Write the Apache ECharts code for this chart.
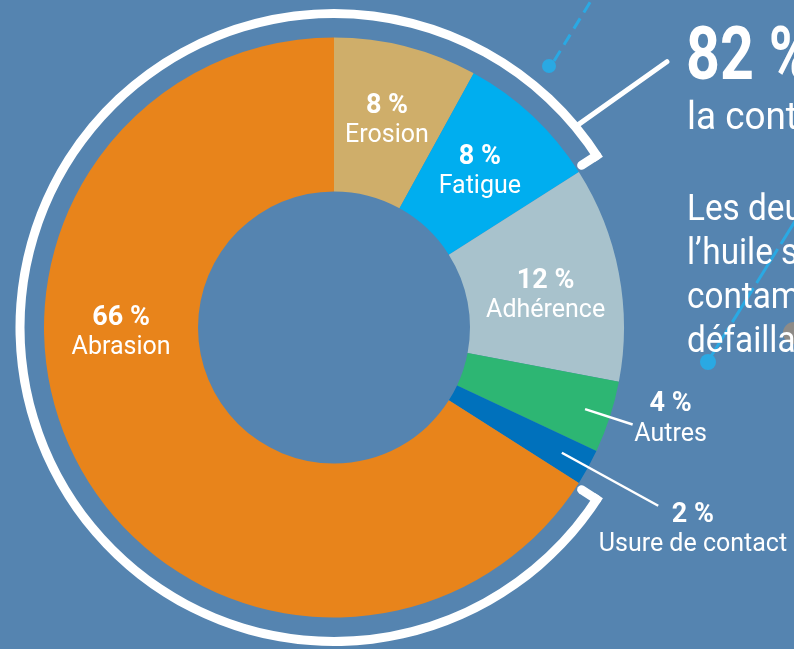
<!DOCTYPE html>
<html>
<head>
<meta charset="utf-8">
<script src="https://cdn.jsdelivr.net/npm/echarts@6/dist/echarts.min.js"></script>
<style>
  html, body { margin: 0; padding: 0; background: #5584b0; }
  #chart { width: 794px; height: 649px; }
</style>
</head>
<body>
<div id="chart"></div>
<script>
// slices, clockwise from 12 o'clock
const categories = ["Erosion", "Fatigue", "Adhérence", "Autres", "Usure de contact", "Abrasion"];
const shares = [8, 8, 12, 4, 2, 66];
// causes grouped under the white "82 %" arc
const contamination = ["Erosion", "Fatigue", "Abrasion"];
const headline = "82 %";
const headlineSub = "la contamination";
const bodyLines = ["Les deux tiers de", "l’huile sont", "contaminées", "défaillances"];

const palette = ["#cfae6a", "#00aeef", "#a8c2cc", "#2db673", "#0071bc", "#e8841b"];
const bg = "#5584b0";
const cx = 334, cy = 327.5;
const rIn = 136, rOut = 290;

const chart = echarts.init(document.getElementById("chart"));

// angles (deg, clockwise from top)
const total = shares.reduce((a, b) => a + b, 0);
let acc = 0;
const midAng = [];
shares.forEach((v) => {
  midAng.push((acc + v / 2) / total * 360);
  acc += v;
});
function polar(deg, r) {
  const a = deg * Math.PI / 180;
  return [cx + r * Math.sin(a), cy - r * Math.cos(a)];
}

// label spots that differ from the slice middle
const labelSpot = {
  "Adhérence": [81.5, 214],
  "Abrasion": [268.5, 213],
  "Autres": [105.3, 349],
  "Usure de contact": [119.4, 412],
};

// white arc: runs of slices in / out of the contamination group
const ringData = [];
categories.forEach((c, i) => {
  const inside = contamination.includes(c);
  const last = ringData[ringData.length - 1];
  if (last && last.inside === inside) last.value += shares[i];
  else ringData.push({ value: shares[i], inside: inside });
});
let arcStart = null, arcEnd = null, run = 0;
ringData.forEach((d) => {
  const a0 = run / total * 360;
  run += d.value;
  const a1 = run / total * 360;
  if (!d.inside) { arcEnd = a0; arcStart = a1; }
});

const hookD = 4.5 / 314 * 180 / Math.PI;
const white = "#ffffff";
const graphics = [];
function line(p1, p2, w, cap) {
  graphics.push({
    type: "line", z: 20, silent: true,
    shape: { x1: p1[0], y1: p1[1], x2: p2[0], y2: p2[1] },
    style: { stroke: white, lineWidth: w, lineCap: cap || "round" },
  });
}
// hooks at the ends of the white arc
line(polar(arcEnd - hookD, 314), polar(arcEnd - hookD, 296), 9);
line(polar(arcStart + hookD, 314), polar(arcStart + hookD, 296), 9);
// pointer to the headline
line(polar(50.3, 318), polar(51.4, 426), 5);
// label lines for the small slices
const iAut = categories.indexOf("Autres");
const iUs = categories.indexOf("Usure de contact");
line(polar(midAng[iAut], 264), polar(midAng[iAut], 314), 2.5, "butt");
line(polar(midAng[iUs], 260), polar(midAng[iUs], 370), 2.5, "butt");

// decorative droplets
const drop = "#2aa9e3";
graphics.push({
  type: "line", z: 5, silent: true,
  shape: { x1: 600, y1: -14, x2: 551, y2: 66 },
  style: { stroke: drop, lineWidth: 3, lineDash: [12, 7] },
});
graphics.push({ type: "circle", z: 5, silent: true, shape: { cx: 549, cy: 66, r: 7 }, style: { fill: drop } });
graphics.push({
  type: "line", z: 5, silent: true,
  shape: { x1: 802, y1: 210, x2: 710, y2: 358 },
  style: { stroke: drop, lineWidth: 3, lineDash: [40, 6] },
});
graphics.push({ type: "circle", z: 5, silent: true, shape: { cx: 708, cy: 362, r: 8 }, style: { fill: drop } });
graphics.push({ type: "circle", z: 5, silent: true, shape: { cx: 794, cy: 333, r: 11 }, style: { fill: "#8e8b87" } });

// right-hand text
graphics.push({
  type: "text", z: 20, x: 686, y: 60, scaleX: 0.8, silent: true,
  style: { text: headline, fill: white, font: "bold 74px Roboto", verticalAlign: "middle" },
});
graphics.push({
  type: "text", z: 20, x: 687, y: 119, scaleX: 0.97, silent: true,
  style: { text: headlineSub, fill: white, font: "38px Roboto", verticalAlign: "middle" },
});
graphics.push({
  type: "text", z: 20, x: 687, y: 189, scaleX: 0.9, silent: true,
  style: { text: bodyLines.join("\n"), fill: white, font: "37px Roboto", lineHeight: 44, verticalAlign: "top" },
});

const option = {
  backgroundColor: bg,
  animation: false,
  graphic: graphics,
  series: [
    {
      type: "pie",
      center: [cx, cy],
      radius: [rIn, rOut],
      startAngle: 90,
      clockwise: true,
      avoidLabelOverlap: false,
      silent: true,
      data: categories.map((c, i) => ({
        name: c,
        value: shares[i],
        itemStyle: { color: palette[i] },
      })),
      label: {
        show: true,
        position: "inside",
        color: white,
        formatter: (p) => "{p|" + p.value + " %}\n{n|" + p.name + "}",
        rich: {
          p: { fontFamily: "Roboto", fontWeight: "bold", fontSize: 27, color: white, lineHeight: 30 },
          n: { fontFamily: "Roboto", fontSize: 25, color: white, lineHeight: 30 },
        },
      },
      labelLine: { show: false },
      labelLayout: (params) => {
        if (params.seriesIndex !== 0) return {};
        const name = categories[params.dataIndex];
        const spot = labelSpot[name] || [midAng[params.dataIndex], 213];
        const pt = polar(spot[0], spot[1]);
        return { x: pt[0], y: pt[1], align: "center", verticalAlign: "middle" };
      },
    },
    {
      type: "pie",
      center: [cx, cy],
      radius: [309.5, 318.5],
      startAngle: 90,
      clockwise: true,
      silent: true,
      label: { show: false },
      labelLine: { show: false },
      data: ringData.map((d) => ({
        value: d.value,
        itemStyle: { color: d.inside ? white : "rgba(0,0,0,0)" },
      })),
    },
  ],
};
chart.setOption(option);
</script>
</body>
</html>
